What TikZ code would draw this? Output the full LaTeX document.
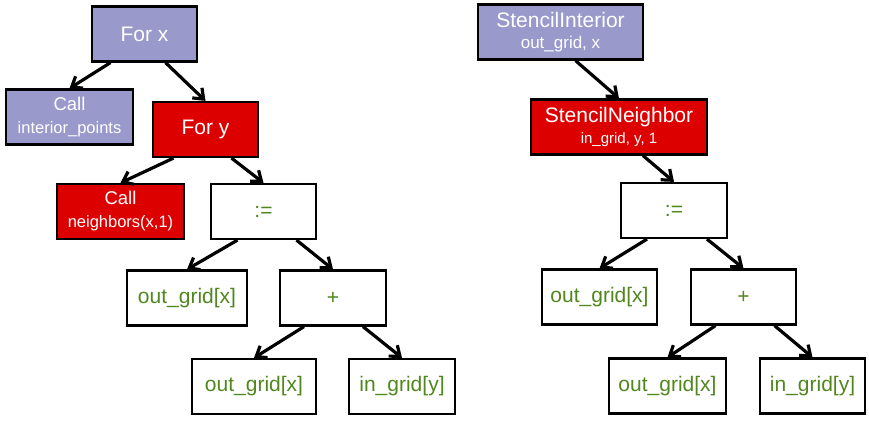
\documentclass[tikz,border=0pt]{standalone}
\usepackage{fontspec}
\setmainfont{Liberation Sans}
\usetikzlibrary{arrows.meta,positioning}

\definecolor{loopblue}{RGB}{153,153,204}
\definecolor{nbred}{RGB}{221,0,0}
\definecolor{exprgreen}{RGB}{80,135,30}

\begin{document}
\begin{tikzpicture}[x=1pt, y=-1pt
    , box/.style = {rectangle,draw=black,line width=2.2pt,minimum height=55,inner sep=0pt,align=center,font=\fontsize{21}{24}\selectfont}
    , loopbox/.style = {box,fill=loopblue,text=white}
    , nbbox/.style = {box,fill=nbred,text=white}
    , exprbox/.style = {box,fill=white,text=exprgreen}
    , edge/.style = {line width=3.2pt,-{Straight Barb[length=9pt,width=14pt,line width=3.2pt]}}
]
\useasboundingbox (0,0) rectangle (869,421);

% left tree
\node[loopbox,minimum width=105] (forx) at (144.5,34) {For x};
\node[loopbox,minimum width=127] (callint) at (69.5,117) {{\fontsize{18.5}{20}\selectfont Call}\\[-1pt]{\fontsize{16.5}{18}\selectfont interior\_points}};
\node[nbbox,minimum width=105] (fory) at (205.5,129.5) {For y};
\node[nbbox,minimum width=127] (callnb) at (120.5,211.5) {{\fontsize{18.5}{20}\selectfont Call}\\[-1pt]{\fontsize{16.5}{18}\selectfont neighbors(x,1)}};
\node[exprbox,minimum width=105] (assign) at (263.5,211.5) {:=};
\node[exprbox,minimum width=120] (lhs) at (187,298) {out\_grid[x]};
\node[exprbox,minimum width=106] (plus) at (333,298) {+};
\node[exprbox,minimum width=124] (outx) at (254,386.5) {out\_grid[x]};
\node[exprbox,minimum width=106] (iny) at (402,386.5) {in\_grid[y]};

% right tree
\node[loopbox,minimum width=165] (sint) at (560.5,32) {StencilInterior\\[-3pt]{\fontsize{17}{20}\selectfont out\_grid, x}};
\node[nbbox,minimum width=176] (snb) at (619,127) {StencilNeighbor\\[-3pt]{\fontsize{15}{18}\selectfont in\_grid, y, 1}};
\node[exprbox,minimum width=106] (assignr) at (674,210.5) {:=};
\node[exprbox,minimum width=115] (lhsr) at (599.5,297) {out\_grid[x]};
\node[exprbox,minimum width=105] (plusr) at (743.5,297) {+};
\node[exprbox,minimum width=117] (outxr) at (667.5,386) {out\_grid[x]};
\node[exprbox,minimum width=105] (inyr) at (812.5,386) {in\_grid[y]};

\foreach \p/\c/\s in {forx/callint/-34, forx/fory/21, fory/callnb/-32, fory/assign/26,
    assign/lhs/-26, assign/plus/33, plus/outx/-29, plus/iny/30,
    sint/snb/15, snb/assignr/24, assignr/lhsr/-27, assignr/plusr/33,
    plusr/outxr/-28, plusr/inyr/31}
    \draw[edge] ([xshift=\s]\p.south) -- (\c.north);
\end{tikzpicture}
\end{document}
